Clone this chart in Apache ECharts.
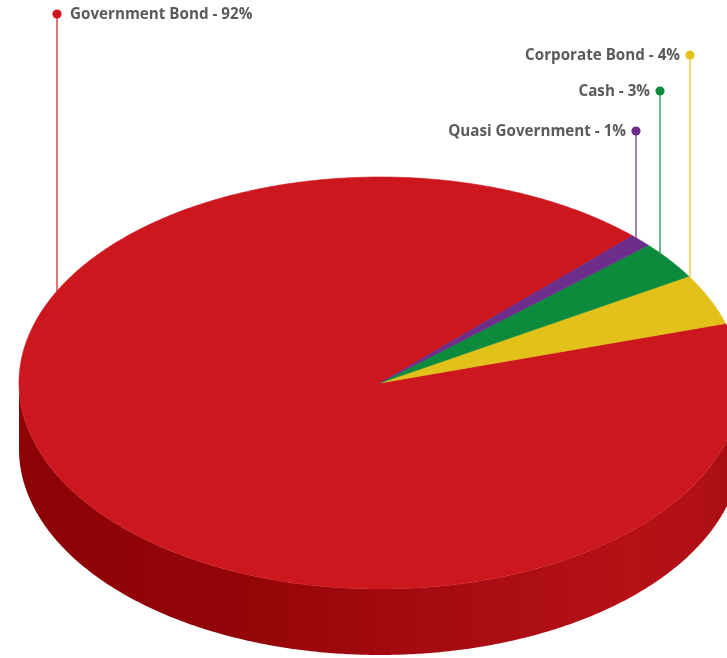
<!DOCTYPE html>
<html>
<head>
<meta charset="utf-8">
<script src="https://cdn.jsdelivr.net/npm/echarts@6/dist/echarts.min.js"></script>
<style>
  html, body { margin: 0; padding: 0; background: #ffffff; }
  #chart { width: 727px; height: 658px; }
</style>
</head>
<body>
<div id="chart"></div>
<script>
// Portfolio allocation by asset class (percent)
const categories = ['Government Bond', 'Corporate Bond', 'Cash', 'Quasi Government'];
const shares = [92, 4, 3, 1];

// Slice colours (top face) and their darker side tones
const topColors = ['#cd171e', '#e1c11a', '#0d8b3d', '#6c2d8b'];
const sideColors = ['#a00b10', '#c4a614', '#0a6e30', '#55206f'];

// Drawing layout for the tilted disc and the call-out labels
const disc = { cx: 380, cy: 383, rx: 361, ry: 206, depth: 66, startDeg: 45.6 };
const callouts = [
  { x: 57, y: 14, side: 'right' },
  { x: 690, y: 55, side: 'left' },
  { x: 660, y: 91, side: 'left' },
  { x: 636, y: 131, side: 'left' }
];

const total = shares.reduce((a, b) => a + b, 0);

function rimPoint(deg, dy) {
  const t = deg * Math.PI / 180;
  return [disc.cx + disc.rx * Math.cos(t), disc.cy - disc.ry * Math.sin(t) + (dy || 0)];
}

function arcPoints(a0, a1, dy) {
  const pts = [];
  const steps = Math.max(2, Math.ceil(Math.abs(a1 - a0) / 0.5));
  for (let k = 0; k <= steps; k++) {
    pts.push(rimPoint(a0 + (a1 - a0) * k / steps, dy));
  }
  return pts;
}

function renderItem(params, api) {
  const i = params.dataIndex;
  const value = api.value(0);
  let start = disc.startDeg;
  for (let j = 0; j < i; j++) start += shares[j] / total * 360;
  const end = start + value / total * 360;

  const children = [];

  // Visible front wall: the part of the slice lying in the lower half (180..360 deg)
  const ranges = [];
  for (let k = -1; k <= 1; k++) {
    const lo = Math.max(start, 180 + 360 * k);
    const hi = Math.min(end, 360 + 360 * k);
    if (hi > lo) ranges.push([lo, hi]);
  }
  ranges.forEach(r => {
    const topArc = arcPoints(r[0], r[1], 0);
    const botArc = arcPoints(r[1], r[0], disc.depth);
    const fill = i === 0
      ? new echarts.graphic.LinearGradient(0, 0, 1, 0, [
          { offset: 0, color: '#8c0205' },
          { offset: 0.3, color: '#930508' },
          { offset: 0.55, color: '#a40b10' },
          { offset: 0.85, color: '#b51117' },
          { offset: 0.95, color: '#b01016' },
          { offset: 1, color: '#a00c10' }
        ])
      : sideColors[i];
    children.push({
      type: 'polygon',
      z2: 1,
      shape: { points: topArc.concat(botArc) },
      style: { fill: fill, stroke: null }
    });
  });

  // Top face sector
  const topPts = [[disc.cx, disc.cy]].concat(arcPoints(start, end, 0));
  children.push({
    type: 'polygon',
    z2: 2,
    shape: { points: topPts },
    style: { fill: topColors[i], stroke: topColors[i], lineWidth: 0.6, lineJoin: 'round' }
  });

  // Call-out: leader line from the rim up to a dot, then the label
  const c = callouts[i];
  const dx = (c.x - disc.cx) / disc.rx;
  const rimY = disc.cy - disc.ry * Math.sqrt(Math.max(0, 1 - dx * dx));
  children.push({
    type: 'line',
    z2: 3,
    shape: { x1: c.x, y1: c.y, x2: c.x, y2: rimY },
    style: { stroke: topColors[i], lineWidth: 1.6, opacity: 0.75 }
  });
  children.push({
    type: 'circle',
    z2: 4,
    shape: { cx: c.x, cy: c.y, r: 4.6 },
    style: { fill: topColors[i] }
  });
  children.push({
    type: 'text',
    z2: 5,
    style: {
      text: categories[i] + ' - ' + value + '%',
      x: c.side === 'right' ? c.x + 13 : c.x - 10,
      y: c.y + 0.5,
      align: c.side === 'right' ? 'left' : 'right',
      verticalAlign: 'middle',
      fill: '#5a5a5c',
      font: 'bold 15.2px "Open Sans", "Liberation Sans", sans-serif'
    }
  });

  return { type: 'group', children: children };
}

const chart = echarts.init(document.getElementById('chart'), null, { renderer: 'canvas' });
chart.setOption({
  backgroundColor: '#ffffff',
  animation: false,
  series: [{
    type: 'custom',
    coordinateSystem: 'none',
    renderItem: renderItem,
    data: shares.map((v, i) => ({ name: categories[i], value: [v] }))
  }]
});
</script>
</body>
</html>
